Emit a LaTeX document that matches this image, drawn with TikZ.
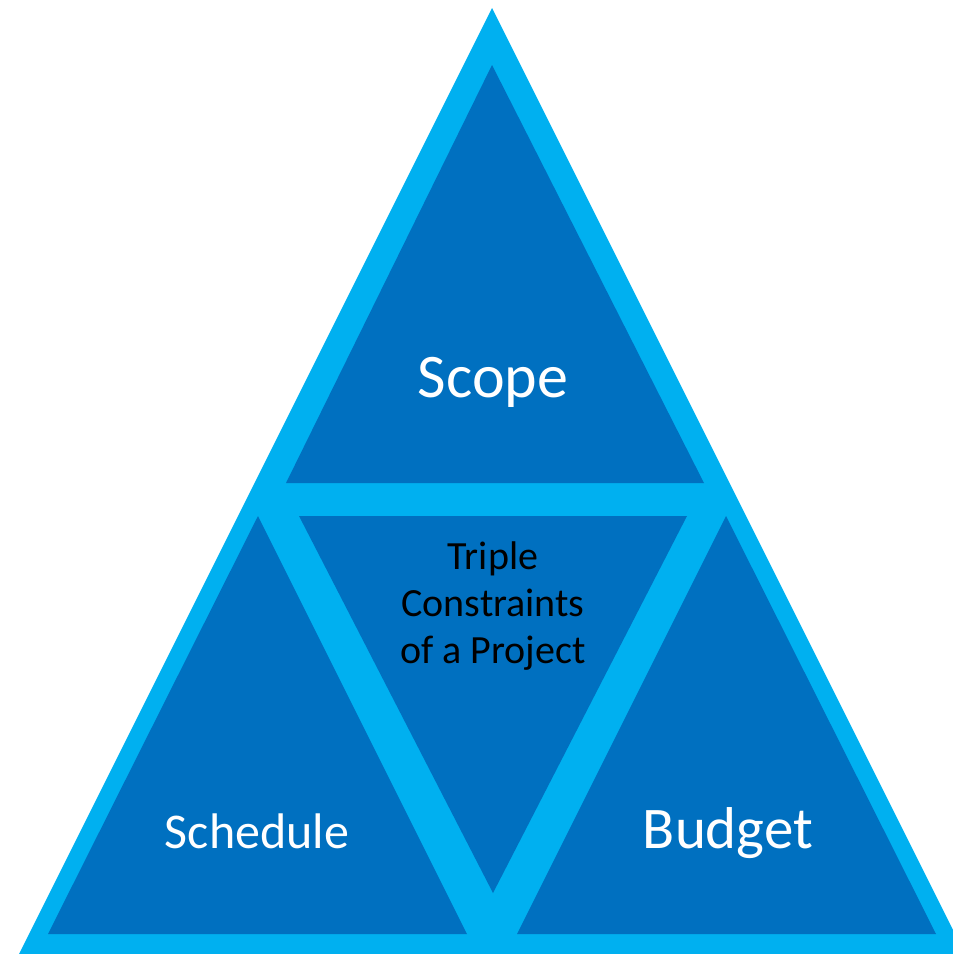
\documentclass[tikz,border=0pt]{standalone}
\usepackage{fontspec}
\setmainfont{Carlito}
\usepackage{tikz}
\usetikzlibrary{positioning,calc}
\definecolor{rimblue}{HTML}{00B0F0}
\definecolor{segblue}{HTML}{0070C0}

\begin{document}
\begin{tikzpicture}[x=1pt,y=-1pt,
			seg/.style={fill=segblue},
			lbl/.style={text=white, inner sep=0pt, anchor=base},
			mid/.style={text=black, inner sep=0pt, align=center, font=\fontsize{40}{47}\selectfont}]
		\useasboundingbox (0,0) rectangle (953,954);
		% outer pyramid
		\fill [rimblue] (492,8) -- (19,954) -- (953,954) -- (953,930) -- cycle;
		% corners of the four segments
		\path 	(492,65)  coordinate (t0)
		        (286,483) coordinate (t1)
		        (704,483) coordinate (t2)
		        (299,516) coordinate (c1)
		        (687,516) coordinate (c2)
		        (493,893) coordinate (c0)
		        (258,516) coordinate (l0)
		        (48,934)  coordinate (l1)
		        (467,934) coordinate (l2)
		        (726,516) coordinate (r0)
		        (517,934) coordinate (r1)
		        (936,934) coordinate (r2);
		\fill [seg] (t0) -- (t1) -- (t2) -- cycle;
		\fill [seg] (c1) -- (c2) -- (c0) -- cycle;
		\fill [seg] (l0) -- (l1) -- (l2) -- cycle;
		\fill [seg] (r0) -- (r1) -- (r2) -- cycle;
		% labels
		\node (scope) [lbl, font=\fontsize{62}{74}\selectfont] at (493,397) {Scope};
		\node (sched) [lbl, font=\fontsize{50}{60}\selectfont] at (257,848) {Schedule};
		\node (budget) [lbl, font=\fontsize{59}{70}\selectfont] at (728,848) {Budget};
		\node (triple) [mid] at (493,606) {Triple\\Constraints\\of a Project};
	\end{tikzpicture}
\end{document}
